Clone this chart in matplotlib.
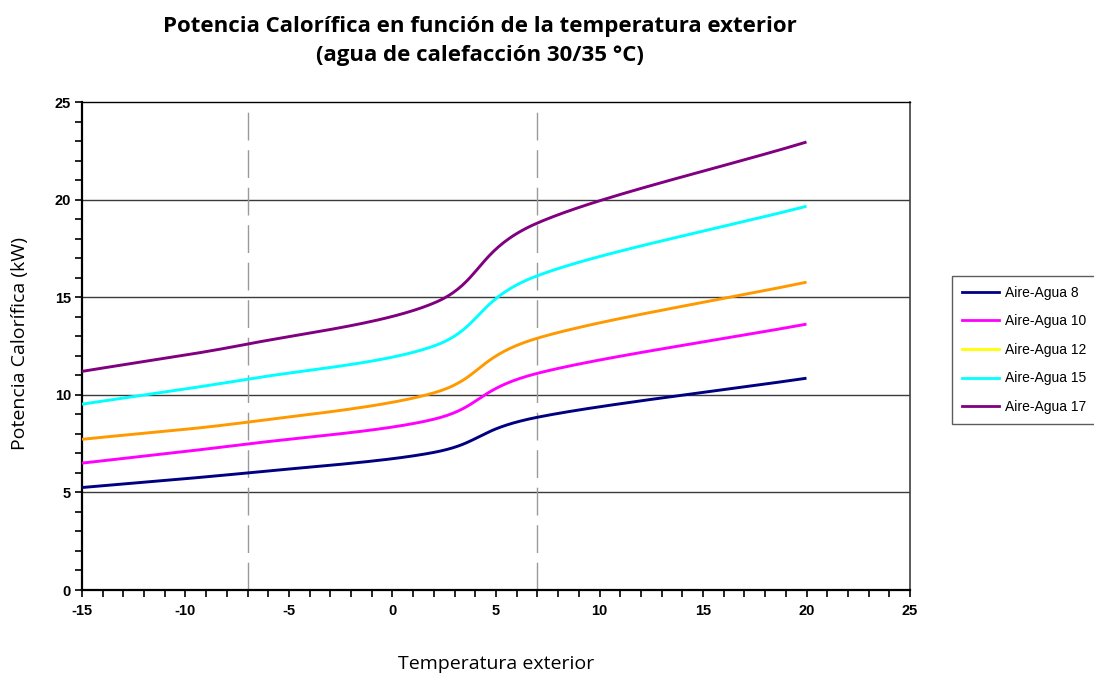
import numpy as np
import matplotlib
matplotlib.use("Agg")
import matplotlib.pyplot as plt
from matplotlib.lines import Line2D
from matplotlib.ticker import MultipleLocator

plt.rcParams["axes.unicode_minus"] = False

temps = [-15, -7, 2, 7, 20]
series_names = ["Aire-Agua 8", "Aire-Agua 10", "Aire-Agua 12", "Aire-Agua 15", "Aire-Agua 17"]
aa8 = [5.25, 6.0, 7.05, 8.85, 10.85]
aa10 = [6.5, 7.48, 8.75, 11.1, 13.62]
aa12 = [7.72, 8.6, 10.1, 12.9, 15.77]
aa15 = [9.52, 10.8, 12.5, 16.1, 19.66]
aa17 = [11.2, 12.6, 14.7, 18.8, 22.95]
line_colors = ["#000080", "#FF00FF", "#FF9900", "#00FFFF", "#800080"]
legend_colors = ["#000080", "#FF00FF", "#FFFF00", "#00FFFF", "#800080"]
xticks = [-15, -10, -5, 0, 5, 10, 15, 20, 25]
yticks = [0, 5, 10, 15, 20, 25]
ref_temps = [-7, 7]


def smooth(xs, ys, n=40):
    # Catmull-Rom style smoothing (like spreadsheet smoothed lines)
    xs = np.asarray(xs, float)
    ys = np.asarray(ys, float)
    px = np.concatenate([[2 * xs[0] - xs[1]], xs, [2 * xs[-1] - xs[-2]]])
    py = np.concatenate([[2 * ys[0] - ys[1]], ys, [2 * ys[-1] - ys[-2]]])
    ox, oy = [], []
    for i in range(1, len(px) - 2):
        p0 = np.array([px[i - 1], py[i - 1]])
        p1 = np.array([px[i], py[i]])
        p2 = np.array([px[i + 1], py[i + 1]])
        p3 = np.array([px[i + 2], py[i + 2]])
        c1 = p1 + (p2 - p0) / 6.0
        c2 = p2 - (p3 - p1) / 6.0
        t = np.linspace(0, 1, n)[:, None]
        pts = ((1 - t) ** 3) * p1 + 3 * ((1 - t) ** 2) * t * c1 + 3 * (1 - t) * t ** 2 * c2 + t ** 3 * p2
        ox.extend(pts[:, 0])
        oy.extend(pts[:, 1])
    return np.array(ox), np.array(oy)


fig = plt.figure(figsize=(10.94, 6.74), dpi=100)
ax = fig.add_axes([82 / 1094, 84 / 674, 828 / 1094, 488 / 674])

for yv in [5, 10, 15, 20]:
    ax.axhline(yv, color="#3a3a3a", lw=1.0, zorder=1)
for xv in ref_temps:
    ax.axvline(xv, color="#9a9a9a", lw=1.0, dashes=(20, 7), zorder=1)

for ys, c in zip([aa8, aa10, aa12, aa15, aa17], line_colors):
    sx, sy = smooth(temps, ys)
    ax.plot(sx, sy, color=c, lw=2.1, zorder=3, solid_capstyle="butt")

ax.set_xlim(-15, 25)
ax.set_ylim(0, 25)
ax.set_xticks(xticks)
ax.set_yticks(yticks)
ax.xaxis.set_minor_locator(MultipleLocator(1))
ax.yaxis.set_minor_locator(MultipleLocator(1))
ax.tick_params(axis="both", which="both", direction="out", length=5, width=1.2, color="black")
for lab in ax.get_xticklabels() + ax.get_yticklabels():
    lab.set_fontfamily("Liberation Sans")
    lab.set_fontweight("bold")
    lab.set_fontsize(10.5)
ax.tick_params(axis="x", pad=5)
ax.tick_params(axis="y", pad=3)
for side in ["left", "bottom"]:
    ax.spines[side].set_linewidth(1.6)
    ax.spines[side].set_color("black")
ax.spines["top"].set_linewidth(1.0)
ax.spines["right"].set_linewidth(1.2)
ax.spines["right"].set_color("#404040")

fig.text(20 / 1094, 1 - 344 / 674, "Potencia Calorífica (kW)", fontfamily="Open Sans", fontsize=14,
         rotation=90, ha="center", va="center")
fig.text(496 / 1094, 1 - 664 / 674, "Temperatura exterior", fontfamily="Open Sans",
         fontsize=14, ha="center", va="center")
fig.text(480 / 1094, 1 - 41 / 674, "Potencia Calorífica en función de la temperatura exterior\n(agua de calefacción 30/35 °C)",
         fontfamily="Open Sans", fontweight="bold", fontsize=16, ha="center", va="center", linespacing=1.45)

handles = [Line2D([0], [0], color=c, lw=2) for c in legend_colors]
leg = fig.legend(handles, series_names, loc="upper left", bbox_to_anchor=(952 / 1094, 1 - 276 / 674),
                 prop={"family": "Liberation Sans", "size": 10}, frameon=True, fancybox=False,
                 handlelength=2.7, handletextpad=0.4, labelspacing=1.05, borderpad=0.7,
                 borderaxespad=0)
leg.get_frame().set_edgecolor("#333333")
leg.get_frame().set_linewidth(1.0)

fig.savefig("out.png", dpi=100)
